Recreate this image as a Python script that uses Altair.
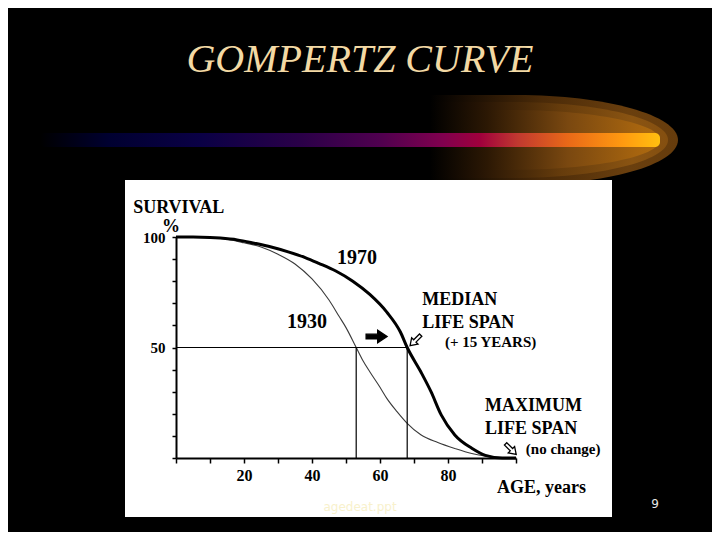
import altair as alt
import pandas as pd

# ---- data ----
ages_1930 = [0, 5, 10, 15, 20, 25, 30, 35, 40, 45, 48, 50, 53, 55, 57, 60, 62, 65, 68, 72, 77, 82, 87, 93, 100]
surv_1930 = [100, 100, 99.7, 99, 97.4, 95.5, 92.2, 87.8, 81, 71.5, 64, 59, 50, 44, 39, 32, 27, 21, 15.7, 10.5, 7, 4.3, 2, 0.4, 0]

ages_1970 = [0, 5, 10, 13, 18, 23, 28, 33, 38, 42, 47, 52, 57, 62, 66, 68, 72, 75, 78, 82, 87, 91, 96, 100]
surv_1970 = [100, 100, 99.8, 99.5, 98.7, 97.2, 95.5, 93.3, 90.7, 88.1, 84.6, 80, 74, 66, 57, 50, 39, 30, 19.5, 10.4, 4.4, 1.2, 0, 0]

median_1930 = 53
median_1970 = 68

x_ticks = [0, 10, 20, 30, 40, 50, 60, 70, 80, 90, 100]
y_ticks = [0, 10, 20, 30, 40, 50, 60, 70, 80, 90, 100]

ann_text = ["SURVIVAL", "%", "1970", "1930", "MEDIAN", "LIFE SPAN", "(+ 15 YEARS)",
            "MAXIMUM", "LIFE SPAN", "(no change)", "AGE, years"]
ann_age = [-12.6, -1.5, 53.2, 38.5, 72.4, 72.4, 79.1, 90.9, 90.9, 102.9, 94.4]
ann_surv = [113.1, 104.3, 90.5, 61.5, 71.5, 61.1, 52.5, 23.5, 13.1, 4.1, -13.6]
ann_size = [18, 18, 20, 20, 18, 18, 15, 18, 18, 15, 18]
ann_align = ["left", "center", "center", "center", "left", "left", "left", "left", "left", "left", "left"]

# arrow markers: position (age, survival), direction, fill
arrow_age = [59.0, 70.4, 98.5]
arrow_surv = [55.0, 53.2, 4.0]
arrow_angle = [0, 135, 45]
arrow_fill = ["black", "white", "white"]
arrow_size = [441, 225, 225]

# ---- tables ----
curves = pd.concat([
    pd.DataFrame({"age": ages_1930, "surv": surv_1930, "year": "1930"}),
    pd.DataFrame({"age": ages_1970, "surv": surv_1970, "year": "1970"}),
])
rules = pd.DataFrame({
    "x": [0, median_1930, median_1970],
    "x2": [median_1970, median_1930, median_1970],
    "y": [50, 0, 0],
    "y2": [50, 50, 50],
})
ann = pd.DataFrame({"text": ann_text, "age": ann_age, "surv": ann_surv,
                    "size": ann_size, "align": ann_align})
arrows = pd.DataFrame({"age": arrow_age, "surv": arrow_surv, "angle": arrow_angle,
                       "fill": arrow_fill, "size": arrow_size})
one = pd.DataFrame({"k": [0]})

xscale = alt.Scale(domain=[0, 100], nice=False, zero=False)
yscale = alt.Scale(domain=[0, 100], nice=False, zero=False)

x_axis = alt.Axis(values=x_ticks, tickCount=11,
                  labelExpr="indexof([20,40,60,80], datum.value) >= 0 ? datum.label : ''",
                  title=None, grid=False, domainColor="black", domainWidth=2, tickColor="black",
                  tickWidth=1.5, tickSize=5, labelFont="Liberation Serif", labelFontWeight="bold",
                  labelFontSize=16, labelColor="black", labelPadding=4, labelOverlap=False,
                  labelFlush=False, zindex=1)
y_axis = alt.Axis(values=y_ticks, tickCount=11,
                  labelExpr="indexof([50,100], datum.value) >= 0 ? datum.label : ''",
                  title=None, grid=False, domainColor="black", domainWidth=2, tickColor="black",
                  tickWidth=1.5, tickSize=4, labelFont="Liberation Serif", labelFontWeight="bold",
                  labelFontSize=15, labelColor="black", labelPadding=7, labelOverlap=False,
                  labelFlush=False, zindex=1)

X = alt.X("age:Q", scale=xscale, axis=x_axis)
Y = alt.Y("surv:Q", scale=yscale, axis=y_axis)


def glow_path(h):
    return (f"M -1 {-h} L -0.3 {-h} A 1.3 {h} 0 0 1 -0.3 {h} L -1 {h} Z")


def hgrad(stops):
    return {"gradient": "linear", "x1": 0, "y1": 0, "x2": 1, "y2": 0,
            "stops": [{"offset": o, "color": c} for o, c in stops]}


# ---- slide decorations (pixel positions relative to plot origin) ----
glow1 = alt.Chart(one).mark_point(
    shape=glow_path(0.363), size=248 ** 2, filled=True, opacity=1, strokeWidth=0,
    fill=hgrad([(0, "#000000"), (0.15, "#1a0e03"), (0.45, "#4a2a08"), (0.8, "#6a3f0e"), (1, "#663c0c")]),
).encode(x=alt.value(378), y=alt.value(-97))

glow2 = alt.Chart(one).mark_point(
    shape=glow_path(0.319), size=238 ** 2, filled=True, opacity=1, strokeWidth=0,
    fill=hgrad([(0, "#000000"), (0.2, "#241304"), (0.55, "#663c0c"), (0.85, "#8a5412"), (1, "#844f10")]),
).encode(x=alt.value(373), y=alt.value(-97))

glow3 = alt.Chart(one).mark_point(
    shape=glow_path(0.26), size=230 ** 2, filled=True, opacity=1, strokeWidth=0,
    fill=hgrad([(0, "#000000"), (0.25, "#2c1804"), (0.6, "#7a4810"), (0.9, "#a6640f"), (1, "#ac6a10")]),
).encode(x=alt.value(369), y=alt.value(-97))

bar = alt.Chart(one).mark_rect(
    cornerRadius=5,
    fill=hgrad([(0, "#000000"), (0.11, "#000030"), (0.26, "#0a0045"), (0.42, "#2a0048"),
                (0.55, "#50004f"), (0.65, "#80004e"), (0.71, "#a0003c"), (0.77, "#c03830"),
                (0.85, "#e86818"), (0.94, "#ff9a10"), (1, "#ffc010")]),
).encode(x=alt.value(-136), x2=alt.value(484), y=alt.value(-104), y2=alt.value(-90))

panel = alt.Chart(one).mark_rect(fill="white").encode(
    x=alt.value(-51), x2=alt.value(436), y=alt.value(-57), y2=alt.value(280))

title = alt.Chart(one).mark_text(
    text="GOMPERTZ CURVE", font="Liberation Serif", fontStyle="italic", fontSize=40,
    color="#f3d9a4", align="center", baseline="alphabetic",
).encode(x=alt.value(184), y=alt.value(-165))

pagenum = alt.Chart(one).mark_text(
    text="9", font="DejaVu Sans", fontSize=12, color="#e6e6e6", align="center", baseline="middle",
).encode(x=alt.value(479), y=alt.value(267))

watermark = alt.Chart(one).mark_text(
    text="agedeat.ppt", font="DejaVu Sans", fontSize=12, color="#f8f1cc", align="center", baseline="middle",
).encode(x=alt.value(184), y=alt.value(270))

# ---- chart content ----
line1930 = alt.Chart(curves).transform_filter("datum.year == '1930'").mark_line(
    color="#3a3a3a", strokeWidth=1.1, interpolate="monotone", clip=False
).encode(x=X, y=Y)

line1970 = alt.Chart(curves).transform_filter("datum.year == '1970'").mark_line(
    color="black", strokeWidth=3, interpolate="monotone", clip=False
).encode(x=X, y=Y)

rule_layer = alt.Chart(rules).mark_rule(color="black", strokeWidth=1.2).encode(
    x=alt.X("x:Q", scale=xscale, axis=x_axis), x2="x2:Q",
    y=alt.Y("y:Q", scale=yscale, axis=y_axis), y2="y2:Q")

text_left = alt.Chart(ann).transform_filter("datum.align == 'left'").mark_text(
    font="Liberation Serif", fontWeight="bold", color="black", align="left", baseline="middle"
).encode(x=X, y=Y, text="text:N", size=alt.Size("size:Q", scale=None, legend=None))

text_center = alt.Chart(ann).transform_filter("datum.align == 'center'").mark_text(
    font="Liberation Serif", fontWeight="bold", color="black", align="center", baseline="middle"
).encode(x=X, y=Y, text="text:N", size=alt.Size("size:Q", scale=None, legend=None))

arrow_shape = "M -1 -0.22 L 0.1 -0.22 L 0.1 -0.6 L 1 0 L 0.1 0.6 L 0.1 0.22 L -1 0.22 Z"
arrow_layer = alt.Chart(arrows).mark_point(
    shape=arrow_shape, filled=True, stroke="black", strokeWidth=1.3, opacity=1
).encode(x=X, y=Y,
         angle=alt.Angle("angle:Q", scale=None),
         fill=alt.Fill("fill:N", scale=None, legend=None),
         size=alt.Size("size:Q", scale=None, legend=None))

chart = alt.layer(
    glow1, glow2, glow3, bar, panel, title, pagenum, watermark,
    line1930, line1970, rule_layer, text_left, text_center, arrow_layer
).properties(
    width=340, height=221,
    autosize=alt.AutoSizeParams(type="none"),
    padding={"left": 168, "top": 229, "right": 196, "bottom": 74},
    background="black",
).configure_view(stroke=None)

chart.save("out.html", embed_options={"renderer": "svg", "actions": False})
